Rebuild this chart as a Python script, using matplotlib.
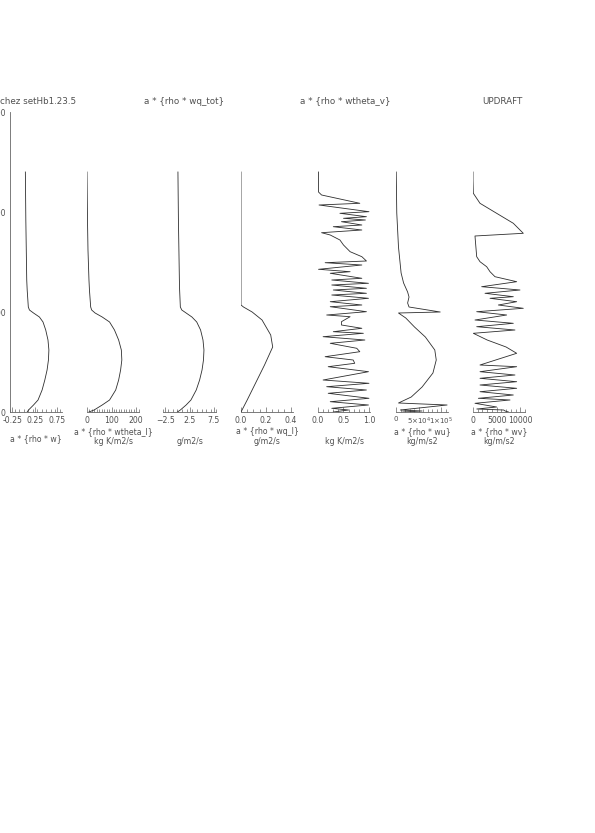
import numpy as np
import matplotlib
matplotlib.use("Agg")
import matplotlib.pyplot as plt
from matplotlib.ticker import MultipleLocator, FixedLocator

# altitude grid (m) for the smooth profiles
z_smooth = [0, 20, 70, 120, 220, 320, 420, 520, 620, 720, 820, 900, 950, 990,
            1020, 1050, 1220, 1320, 1620, 1920, 2400]
rho_w = [0.08, 0.11, 0.22, 0.32, 0.41, 0.47, 0.52, 0.55, 0.56, 0.54, 0.49, 0.43,
         0.35, 0.22, 0.13, 0.105, 0.08, 0.07, 0.06, 0.05, 0.04]
rho_wthl = [8, 29, 62, 92, 117, 129, 137, 142, 140, 129, 112, 92, 62, 33,
            19, 15, 10, 8, 4, 2, 0]
rho_wqtot = [0.0, 0.6, 1.8, 2.8, 3.9, 4.6, 5.1, 5.4, 5.5, 5.3, 4.8, 4.0, 3.0, 1.8,
             0.9, 0.6, 0.45, 0.4, 0.3, 0.2, 0.1]
z_ql = [0, 120, 270, 470, 650, 770, 920, 1000, 1050, 1070, 1100, 2400]
rho_wql = [0.0, 0.05, 0.11, 0.19, 0.256, 0.24, 0.17, 0.09, 0.02, 0.0, 0.0, 0.0]

# wtheta_v : noisy profile
z_thv = [2400, 2200, 2170, 2087, 2070, 2003, 1987, 1953, 1937, 1920, 1903, 1870,
         1853, 1820, 1793, 1770, 1720, 1670, 1603, 1553, 1510, 1493, 1470, 1427,
         1403, 1387, 1337, 1320, 1287, 1270, 1237, 1220, 1187, 1170, 1137, 1103,
         1070, 1053, 1003, 970, 953, 903, 870, 837, 803, 787, 753, 720, 687, 637,
         603, 553, 520, 487, 453, 403, 320, 287, 253, 220, 187, 137, 103, 70, 37,
         20, 0]
rho_wthv = [0.01, 0.01, 0.07, 0.82, 0.02, 1.0, 0.43, 0.95, 0.50, 0.93, 0.46, 0.86,
            0.30, 0.86, 0.07, 0.24, 0.43, 0.50, 0.63, 0.86, 0.95, 0.14, 0.86, 0.01,
            0.63, 0.24, 0.86, 0.27, 0.99, 0.27, 0.95, 0.30, 0.95, 0.27, 0.99, 0.24,
            0.86, 0.24, 0.95, 0.17, 0.63, 0.46, 0.46, 0.86, 0.30, 0.89, 0.10, 0.92,
            0.24, 0.76, 0.82, 0.14, 0.69, 0.72, 0.20, 0.99, 0.10, 1.0, 0.17, 0.95,
            0.20, 1.0, 0.24, 0.99, 0.27, 0.6, 0.3]

# wu
z_wu = [2400, 1990, 1650, 1390, 1290, 1200, 1150, 1090, 1050, 1000, 990, 940, 850,
        750, 620, 520, 390, 250, 150, 90, 70, 20, 10, 0]
rho_wu = [500, 1700, 5500, 11300, 16800, 25700, 28800, 25700, 28800, 97800, 5500,
          21600, 40900, 64900, 85800, 89000, 81700, 57700, 33700, 5500, 113000,
          9600, 57700, 15000]

# wv
z_wv = [2400, 2320, 2187, 2087, 1987, 1887, 1787, 1760, 1553, 1503, 1453, 1403,
        1353, 1303, 1253, 1220, 1187, 1153, 1137, 1103, 1070, 1037, 1003, 970, 920,
        887, 853, 820, 787, 720, 650, 587, 470, 453, 403, 370, 337, 303, 270, 237,
        203, 170, 137, 120, 87, 50, 30, 20, 10, 0]
rho_wv = [0, 0, 70, 1480, 5000, 8530, 10640, 420, 780, 1480, 2890, 3600, 4650,
          9240, 1830, 9940, 2540, 8530, 3600, 9240, 5360, 10640, 780, 7120, 420,
          8530, 780, 8880, 70, 3000, 7000, 9240, 1480, 9240, 1480, 8880, 1480, 9240,
          1480, 9240, 1480, 8530, 1130, 7830, 420, 5000, 800, 6500, 6800, 7500]

W, H = 595, 833
fig = plt.figure(figsize=(W / 100, H / 100), dpi=100)
plt.rcParams['font.family'] = ['DejaVu Sans']

ink = '#2e2e2e'
txt = '#505050'
fs = 5.6

def fx(px):
    return px / W

def fy(py):
    return 1 - py / H

# panel: (x0, x1, values, z, xlim, ticks, ticklabels, minor)
panels = [
    (10, 62, rho_w, z_smooth, (-0.3, 0.85), [-0.25, 0.25, 0.75],
     ['-0.25', '0.25', '0.75'], 0.1),
    (87, 139, rho_wthl, z_smooth, (0, 212), [0, 100, 200], ['0', '100', '200'], 10),
    (163, 216, rho_wqtot, z_smooth, (-3, 8), [-2.5, 2.5, 7.5],
     ['\u22122.5', '2.5', '7.5'], 1),
    (241, 293, rho_wql, z_ql, (0, 0.42), [0.0, 0.2, 0.4], ['0.0', '0.2', '0.4'], 0.05),
    (318, 370, rho_wthv, z_thv, (0, 1.02), [0.0, 0.5, 1.0], ['0.0', '0.5', '1.0'], 0.1),
    (396, 448, rho_wu, z_wu, (0, 1.15e5), [0, 5e4, 1e5],
     ['0', r'5$\times$10$^4$', r'1$\times$10$^5$'], 1e4),
    (473, 525, rho_wv, z_wv, (0, 11000), [0, 5000, 10000], ['0', '5000', '10000'], 1000),
]

y_top, y_bot = 112, 412
for i, (x0, x1, vals, zz, xl, tks, tlab, mnr) in enumerate(panels):
    ax = fig.add_axes([fx(x0), fy(y_bot), (x1 - x0) / W, (y_bot - y_top) / H])
    ax.plot(vals, zz, color=ink, lw=0.6)
    ax.set_xlim(*xl)
    ax.set_ylim(0, 3000)
    ax.patch.set_visible(False)
    for s in ['top', 'right']:
        ax.spines[s].set_visible(False)
    ax.spines['bottom'].set_color('#666')
    ax.spines['bottom'].set_linewidth(0.6)
    ax.xaxis.set_major_locator(FixedLocator(tks))
    ax.set_xticklabels(tlab)
    ax.xaxis.set_minor_locator(MultipleLocator(mnr))
    ax.tick_params(axis='x', which='both', direction='in', color='#666',
                   labelsize=fs, labelcolor=txt, pad=3)
    ax.tick_params(axis='x', which='major', length=3.5, width=0.5)
    ax.tick_params(axis='x', which='minor', length=2, width=0.5)
    if i == 5:
        ax.tick_params(axis='x', labelsize=5.0)
    if i == 0:
        ax.spines['left'].set_color('#666')
        ax.spines['left'].set_linewidth(0.6)
        ax.set_yticks([0, 1000, 2000, 3000])
        ax.tick_params(axis='y', length=0, labelsize=fs, labelcolor=txt, pad=3)
    else:
        ax.spines['left'].set_visible(False)
        ax.set_yticks([])

# titles along the top
tkw = dict(fontsize=6.3, color=txt, va='center')
fig.text(fx(0), fy(101), 'chez setHb1.23.5', ha='left', **tkw)
fig.text(fx(184), fy(101), 'a * {rho * wq_tot}', ha='center', **tkw)
fig.text(fx(345), fy(101), 'a * {rho * wtheta_v}', ha='center', **tkw)
fig.text(fx(502), fy(101), 'UPDRAFT', ha='center', **tkw)

# axis titles under the panels
lkw = dict(fontsize=fs, color=txt, va='center', ha='center')
fig.text(fx(36), fy(439), 'a * {rho * w}', **lkw)
fig.text(fx(113), fy(432), 'a * {rho * wtheta_l}', **lkw)
fig.text(fx(113), fy(441), 'kg K/m2/s', **lkw)
fig.text(fx(190), fy(441), 'g/m2/s', **lkw)
fig.text(fx(267), fy(432), 'a * {rho * wq_l}', **lkw)
fig.text(fx(267), fy(441), 'g/m2/s', **lkw)
fig.text(fx(344), fy(441), 'kg K/m2/s', **lkw)
fig.text(fx(422), fy(432), 'a * {rho * wu}', **lkw)
fig.text(fx(422), fy(441), 'kg/m/s2', **lkw)
fig.text(fx(499), fy(432), 'a * {rho * wv}', **lkw)
fig.text(fx(499), fy(441), 'kg/m/s2', **lkw)

fig.savefig('out.png', dpi=100, facecolor='white')
